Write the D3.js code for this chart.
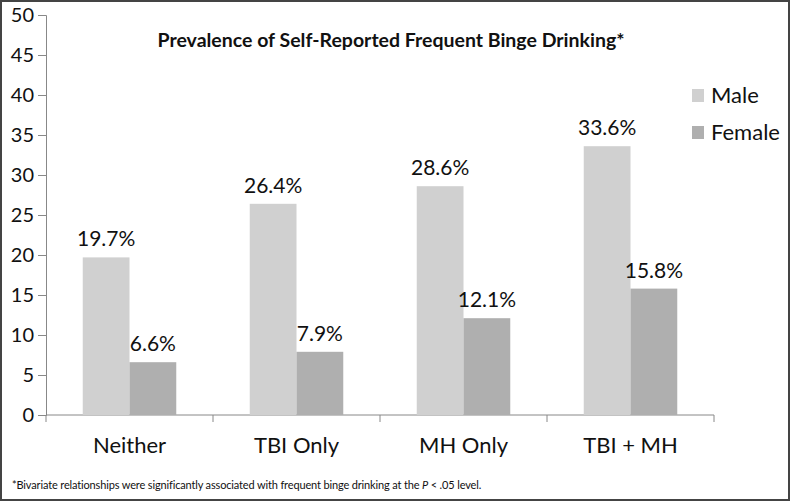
<!DOCTYPE html>
<html>
<head>
<meta charset="utf-8">
<script src="https://cdn.jsdelivr.net/npm/d3@7"></script>
<style>
  body { margin: 0; background: #fff; }
  svg { display: block; font-family: Lato, "Open Sans", sans-serif; }
</style>
</head>
<body>
<div id="chart"></div>
<script>
let categories = ['Neither', 'TBI Only', 'MH Only', 'TBI + MH'];
let seriesNames = ['Male', 'Female'];
let maleValues = [19.7, 26.4, 28.6, 33.6];
let femaleValues = [6.6, 7.9, 12.1, 15.8];
let yTicks = [0, 5, 10, 15, 20, 25, 30, 35, 40, 45, 50];
let colors = ['#d0d0d0', '#afafaf'];

let width = 790, height = 501;
let margin = { top: 15, right: 76, bottom: 86, left: 46 };
let innerW = width - margin.left - margin.right;
let innerH = height - margin.top - margin.bottom;

let data = categories.map((c, i) => ({ category: c, Male: maleValues[i], Female: femaleValues[i] }));

let svg = d3.select('#chart').append('svg')
  .attr('width', width)
  .attr('height', height);

// outer frame
svg.append('rect')
  .attr('x', 1).attr('y', 1)
  .attr('width', width - 2).attr('height', height - 2)
  .attr('fill', 'none')
  .attr('stroke', '#444')
  .attr('stroke-width', 2);

let g = svg.append('g')
  .attr('transform', 'translate(' + margin.left + ',' + margin.top + ')');

let x = d3.scaleBand()
  .domain(categories)
  .range([0, innerW])
  .paddingInner(0.44)
  .paddingOuter(0.22);

let x1 = d3.scaleBand()
  .domain(seriesNames)
  .range([0, x.bandwidth()]);

let y = d3.scaleLinear()
  .domain([0, 50])
  .range([innerH, 0]);

let color = d3.scaleOrdinal().domain(seriesNames).range(colors);

// y axis
let yAxis = g.append('g')
  .call(d3.axisLeft(y).tickValues(yTicks).tickSize(8).tickPadding(4));
yAxis.select('.domain').attr('stroke', '#888');
yAxis.selectAll('.tick line').attr('stroke', '#888');
yAxis.selectAll('.tick text')
  .attr('font-size', 20)
  .attr('fill', '#111')
  .attr('font-family', 'Lato, sans-serif');

// x axis with ticks between categories
let xAxis = g.append('g')
  .attr('transform', 'translate(0,' + innerH + ')');
xAxis.append('line')
  .attr('x1', 0).attr('x2', innerW)
  .attr('stroke', '#888');
let step = innerW / categories.length;
xAxis.selectAll('.sep')
  .data(d3.range(categories.length + 1))
  .enter().append('line')
  .attr('x1', d => d * step).attr('x2', d => d * step)
  .attr('y1', 0).attr('y2', 7)
  .attr('stroke', '#888');
xAxis.selectAll('.cat')
  .data(categories)
  .enter().append('text')
  .attr('x', d => x(d) + x.bandwidth() / 2)
  .attr('y', 38)
  .attr('text-anchor', 'middle')
  .attr('font-size', 22)
  .attr('fill', '#111')
  .text(d => d);

// bars
let groups = g.selectAll('.grp')
  .data(data)
  .enter().append('g')
  .attr('transform', d => 'translate(' + x(d.category) + ',0)');

groups.selectAll('rect')
  .data(d => seriesNames.map(k => ({ key: k, value: d[k] })))
  .enter().append('rect')
  .attr('x', d => x1(d.key))
  .attr('y', d => y(d.value))
  .attr('width', x1.bandwidth())
  .attr('height', d => innerH - y(d.value))
  .attr('fill', d => color(d.key));

groups.selectAll('.lbl')
  .data(d => seriesNames.map(k => ({ key: k, value: d[k] })))
  .enter().append('text')
  .attr('x', d => x1(d.key) + x1.bandwidth() / 2)
  .attr('y', d => y(d.value) - 11)
  .attr('text-anchor', 'middle')
  .attr('font-size', 21)
  .attr('fill', '#111')
  .text(d => d.value.toFixed(1) + '%');

// title
svg.append('text')
  .attr('x', 391)
  .attr('y', 47)
  .attr('text-anchor', 'middle')
  .attr('font-size', 19.5)
  .attr('font-weight', 'bold')
  .attr('fill', '#111')
  .text('Prevalence of Self-Reported Frequent Binge Drinking*');

// legend
let legend = svg.selectAll('.legend')
  .data(seriesNames)
  .enter().append('g')
  .attr('transform', (d, i) => 'translate(692,' + (89 + i * 37) + ')');
legend.append('rect')
  .attr('width', 12).attr('height', 13)
  .attr('fill', d => color(d));
legend.append('text')
  .attr('x', 19)
  .attr('y', 14)
  .attr('font-size', 22)
  .attr('fill', '#111')
  .text(d => d);

// footnote
let foot = svg.append('text')
  .attr('x', 12)
  .attr('y', 489)
  .attr('font-size', 11)
  .attr('letter-spacing', -0.15)
  .attr('fill', '#111');
foot.append('tspan').text('*Bivariate relationships were significantly associated with frequent  binge drinking at the ');
foot.append('tspan').attr('font-style', 'italic').text('P');
foot.append('tspan').text(' < .05 level.');
</script>
</body>
</html>
